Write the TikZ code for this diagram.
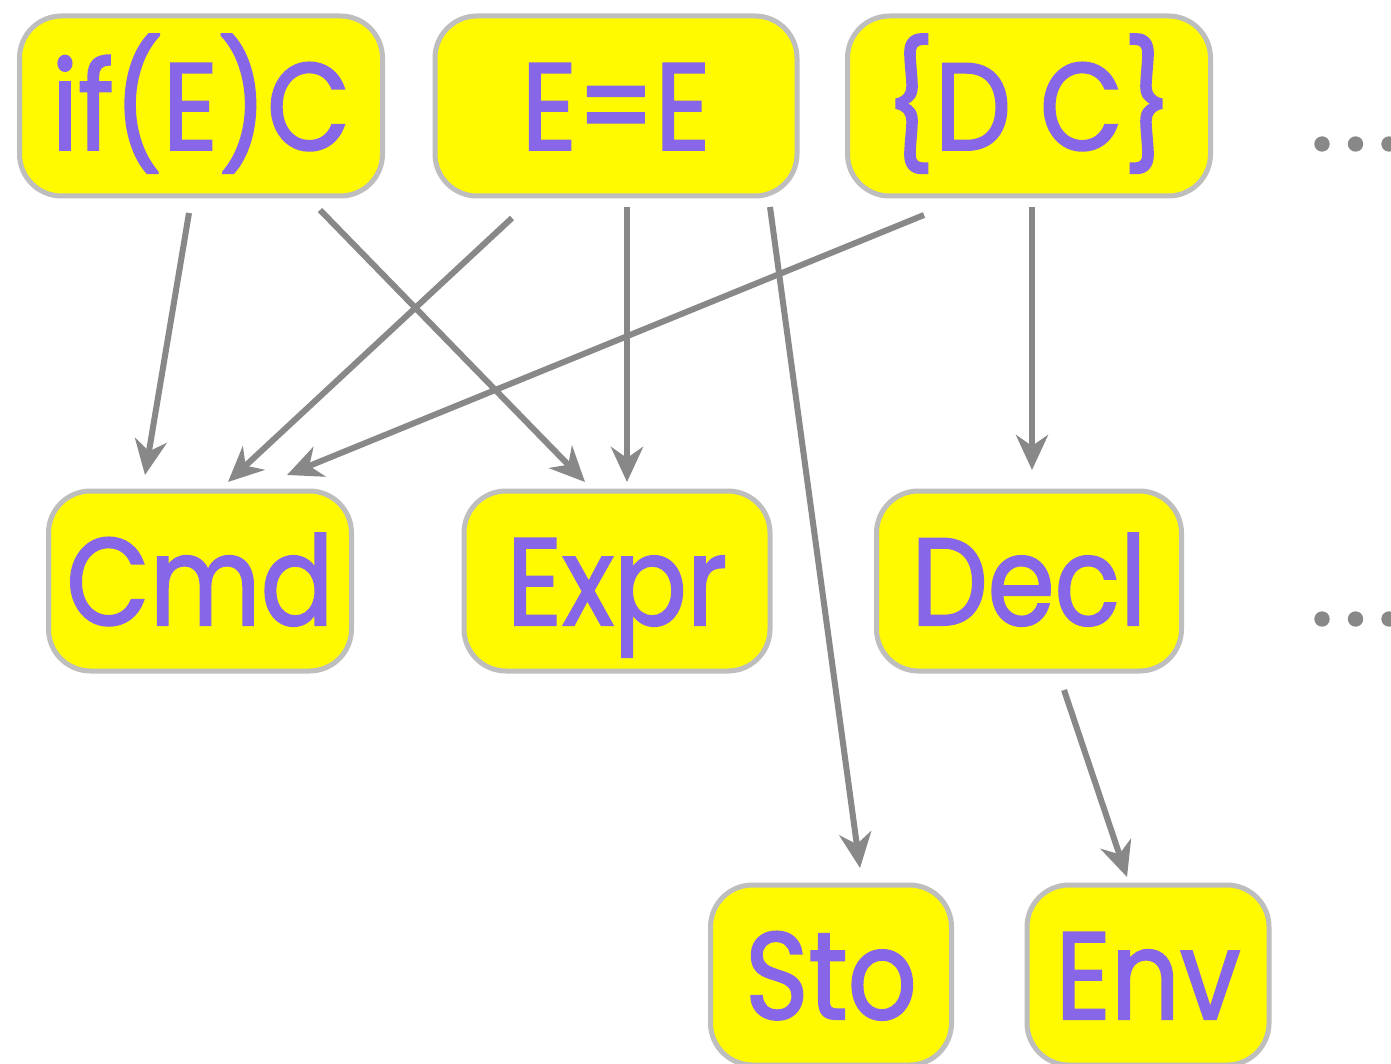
\documentclass[tikz,border=0pt]{standalone}
\usepackage{fontspec}
\setmainfont{Poppins}[FakeStretch=0.87,FakeBold=1.6]
\usetikzlibrary{arrows.meta}
\definecolor{boxfill}{RGB}{255,250,0}
\definecolor{boxline}{RGB}{190,190,190}
\definecolor{txtpurple}{RGB}{136,102,232}
\definecolor{arrgray}{RGB}{136,136,136}
\tikzset{>={Stealth[length=35pt,width=32pt,inset=11pt]}}
\tikzset{
  blk/.style={draw=boxline, fill=boxfill, line width=5pt, rounded corners=42pt,
    minimum height=180pt, inner sep=0pt, text=txtpurple,
    text height=88pt, text depth=0pt,
    font=\fontsize{124}{124}\selectfont},
  dep/.style={->, draw=arrgray, line width=6pt},
  more/.style={fill=arrgray}
}
\begin{document}
\begin{tikzpicture}[x=1pt, y=-1pt]

  \useasboundingbox (0,0) rectangle (1391,1064);

  % syntax
  \node[blk, minimum width=363pt] (ifc)  at (201,106) {if(E)C};
  \node[blk, minimum width=362pt] (asg)  at (616,106) {E=E};
  \node[blk, minimum width=363pt] (seq)  at (1029,106) {\{D C\}};

  % domains
  \node[blk, minimum width=303pt] (cmd)  at (200,581) {Cmd};
  \node[blk, minimum width=306pt] (expr) at (617,581) {Expr};
  \node[blk, minimum width=305pt] (decl) at (1029,581) {Decl};
  \node[blk, minimum width=241pt] (sto)  at (831,975) {Sto};
  \node[blk, minimum width=242pt] (env)  at (1148,975) {Env};

  \draw[dep] ([shift={(-12,14.5)}]ifc.south) -- ([shift={(-55,-13.5)}]cmd.north);
  \draw[dep] ([shift={(119,11.5)}]ifc.south) -- ([shift={(-32,-6.5)}]expr.north);
  \draw[dep] ([shift={(-104,19.5)}]asg.south) -- ([shift={(28,-6.5)}]cmd.north);
  \draw[dep] ([shift={(11,8.5)}]asg.south) -- ([shift={(10,-6.5)}]expr.north);
  \draw[dep] ([shift={(154,8.5)}]asg.south) -- ([shift={(29,-14.5)}]sto.north);
  \draw[dep] ([shift={(-105,16.5)}]seq.south) -- ([shift={(87,-13.5)}]cmd.north);
  \draw[dep] ([shift={(3,8.5)}]seq.south) -- ([shift={(3,-18.5)}]decl.north);
  \draw[dep] ([shift={(35,16.5)}]decl.south) -- ([shift={(-21,-5.5)}]env.north);

  % ellipses
  \foreach \x in {1322,1355.5,1389} {
    \fill[more] (\x,144) circle (7.7pt);
    \fill[more] (\x,619) circle (7.7pt);
  }

\end{tikzpicture}
\end{document}
